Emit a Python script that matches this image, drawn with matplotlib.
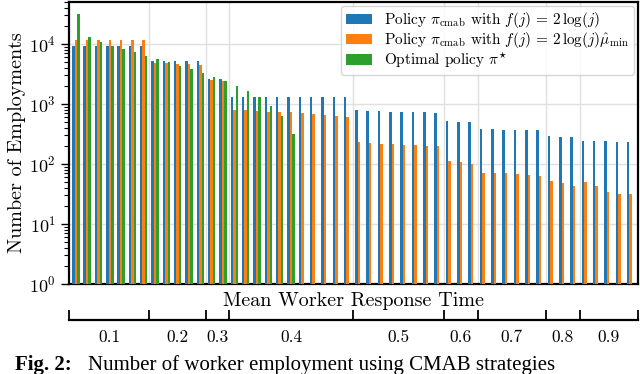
import numpy as np
import matplotlib.pyplot as plt

plt.rcParams['font.family'] = 'serif'
plt.rcParams['font.serif'] = ['cmr10']
plt.rcParams['mathtext.fontset'] = 'cm'
plt.rcParams['axes.formatter.use_mathtext'] = True
plt.rcParams['axes.unicode_minus'] = False

# employments per worker (workers sorted by mean response time)
cmab = [9100, 9100, 9100, 9100, 9100, 9100, 9100,
        5200, 5200, 5200, 5200, 5200,
        2640, 2640,
        1320, 1290, 1290, 1290, 1290, 1290, 1290, 1290, 1290, 1290, 1290,
        780, 760, 760, 740, 740, 730, 730, 715,
        515, 505, 505,
        385, 380, 370, 370, 365, 365,
        293, 285, 280,
        241, 241, 238, 233, 232]
cmab_mu = [11800, 11800, 11800, 11800, 11800, 11500, 11500,
           4800, 4800, 4700, 4700, 4500,
           2540, 2410,
           800, 800, 760, 745, 745, 725, 705, 690, 660, 640, 600,
           233, 225, 218, 218, 210, 210, 202, 202,
           113, 106, 100,
           72, 72, 70, 68, 65, 63,
           52, 48, 43.5,
           50, 43, 34, 31.6, 32]
optimal = [31000, 13100, 10900, 9400, 8200, 7250, 6380,
           5600, 4940, 4350, 3830, 3330,
           2850, 2450,
           2020, 1670, 1290, 940, 620, 310]

# workers per response-time bin
bin_labels = ['0.1', '0.2', '0.3', '0.4', '0.5', '0.6', '0.7', '0.8', '0.9']
bin_counts = [7, 5, 2, 11, 8, 3, 6, 3, 5]

labels = [r'Policy $\pi_{\mathrm{cmab}}$ with $f(j)\,=\,2\,\log(j)$',
          r'Policy $\pi_{\mathrm{cmab}}$ with $f(j)\,=\,2\,\log(j)\hat{\mu}_{\min}$',
          r'Optimal policy $\pi^{\star}$']

fig = plt.figure(figsize=(6.4, 3.74), dpi=100)
ax = fig.add_axes([69/640, 1-284/374, (637.5-69)/640, (284-2)/374])

x = np.arange(len(cmab))
w = 0.22
ax.bar(x - w, cmab, w, color='tab:blue', label=labels[0], zorder=3)
ax.bar(x, cmab_mu, w, color='tab:orange', label=labels[1], zorder=3)
ax.bar(np.arange(len(optimal)) + w, optimal, w, color='tab:green', label=labels[2], zorder=3)

ax.set_yscale('log')
ax.set_ylim(1, 5e4)
xmin, xmax = -0.6, len(cmab) - 0.4
ax.set_xlim(xmin, xmax)

edges = np.cumsum(bin_counts)[:-1] - 0.5
ax.set_xticks(edges)
ax.tick_params(axis='x', length=0, labelbottom=False)
ax.grid(True, which='major', color='#e0e0e0', lw=1, zorder=0)
ax.tick_params(axis='y', which='major', length=6, width=1, labelsize=13)
ax.tick_params(axis='y', which='minor', length=3.5, width=0.8)
for s in ax.spines.values():
    s.set_linewidth(1.6)

ax.set_ylabel('Number of Employments', fontsize=14.5, labelpad=2)
ax.set_xlabel('Mean Worker Response Time', fontsize=14.5, labelpad=6)

leg = ax.legend(loc='upper right', fontsize=11, fancybox=True, framealpha=0.8,
                borderaxespad=0.25, handlelength=1.7, labelspacing=0.0,
                borderpad=0.3, handletextpad=0.8)

# second axis with response-time bins
sec = ax.secondary_xaxis((284-320)/282)
bounds = np.concatenate([[xmin], edges, [xmax]])
centers = (bounds[:-1] + bounds[1:]) / 2
sec.set_xticks(bounds)
sec.set_xticklabels([])
sec.set_xticks(centers, minor=True)
sec.set_xticklabels(bin_labels, minor=True)
sec.tick_params(which='major', direction='in', length=7, width=1.3)
sec.tick_params(which='minor', length=0, pad=7, labelsize=12.5)
sec.spines['bottom'].set_linewidth(1.6)

fig.text(15/640, 4/374, 'Fig. 2:', fontsize=15, fontweight='bold',
         family='Liberation Serif', va='baseline')
fig.text(88/640, 4/374, 'Number of worker employment using CMAB strategies',
         fontsize=15, family='Liberation Serif', va='baseline')

fig.savefig('out.png', dpi=100)
